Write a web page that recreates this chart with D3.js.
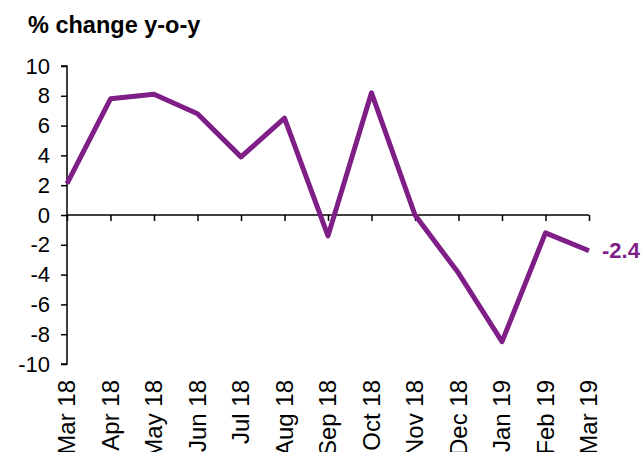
<!DOCTYPE html>
<html>
  <head>
    <script src="https://d3js.org/d3.v7.min.js"></script>
    <style>
      body { margin: 0; background: white; }
      text { font-family: "Liberation Sans", Arial, sans-serif; }
    </style>
  </head>
  <body>
    <script>
      const months = ['Mar 18', 'Apr 18', 'May 18', 'Jun 18', 'Jul 18', 'Aug 18', 'Sep 18',
                      'Oct 18', 'Nov 18', 'Dec 18', 'Jan 19', 'Feb 19', 'Mar 19'];
      const change = [2.1, 7.8, 8.1, 6.8, 3.9, 6.5, -1.4, 8.2, 0.0, -3.9, -8.5, -1.2, -2.4];
      const yTicks = [-10, -8, -6, -4, -2, 0, 2, 4, 6, 8, 10];

      const w = 642;
      const h = 452;
      const purple = '#7e1e86';

      const svg = d3.select('body')
                    .append('svg')
                    .attr('width', w)
                    .attr('height', h);

      const x = d3.scalePoint()
                  .domain(months)
                  .range([67, 589]);

      const y = d3.scaleLinear()
                  .domain([-10, 10])
                  .range([364, 66]);

      svg.append('text')
         .attr('x', 28)
         .attr('y', 33)
         .text('% change y-o-y')
         .style('font-size', '23.5px')
         .style('font-weight', 'bold');

      // y axis
      const yAxis = svg.append('g')
                       .attr('transform', 'translate(67,0)')
                       .call(d3.axisLeft(y).tickValues(yTicks).tickSize(6).tickPadding(11).tickFormat(d3.format('d')));
      yAxis.select('.domain').attr('stroke', 'black').attr('stroke-width', 1.5).attr('d', 'M-6,66H0V364H-6');
      yAxis.selectAll('line').attr('stroke-width', 1.5);
      yAxis.selectAll('text').style('font-size', '22px').style('fill', 'black')
           .text(d => d < 0 ? '-' + Math.abs(d) : d);

      // x axis at zero
      const xAxis = svg.append('g')
                       .attr('transform', `translate(0,${y(0)})`)
                       .call(d3.axisBottom(x).tickSize(6).tickFormat(''));
      xAxis.select('.domain').attr('stroke-width', 1.5).attr('d', 'M67,0H589');
      xAxis.selectAll('line').attr('stroke-width', 1.5);

      // category labels at bottom
      svg.selectAll('.xlabel')
         .data(months)
         .enter()
         .append('text')
         .attr('class', 'xlabel')
         .attr('transform', d => `translate(${x(d)},380) rotate(-90)`)
         .attr('dy', '0.35em')
         .attr('text-anchor', 'end')
         .text(d => d)
         .style('font-size', '24px');

      const line = d3.line()
                     .x((d, i) => x(months[i]))
                     .y(d => y(d));

      svg.append('path')
         .datum(change)
         .attr('d', line)
         .attr('fill', 'none')
         .attr('stroke', purple)
         .attr('stroke-width', 5)
         .attr('stroke-linejoin', 'round')
         .attr('stroke-linecap', 'butt');

      const last = change[change.length - 1];
      svg.append('text')
         .attr('x', x(months[months.length - 1]) + 13)
         .attr('y', y(last))
         .attr('dy', '0.35em')
         .text(last.toFixed(1))
         .style('font-size', '22px')
         .style('font-weight', 'bold')
         .style('fill', purple);
    </script>
  </body>
</html>
